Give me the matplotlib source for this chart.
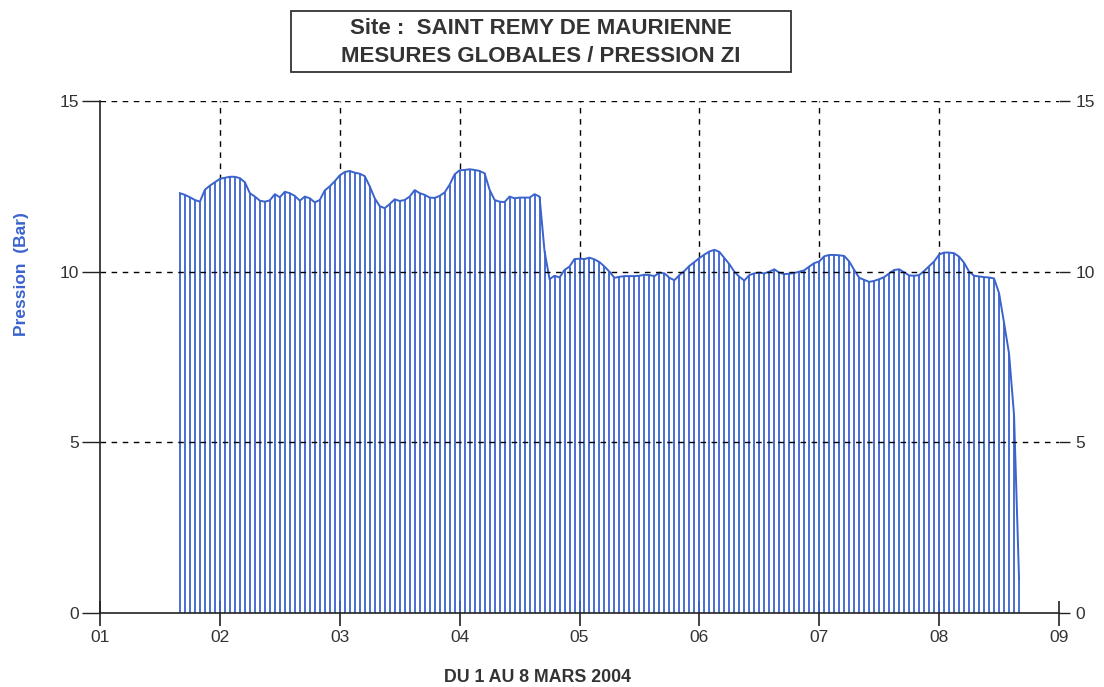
import numpy as np
import matplotlib
matplotlib.use("Agg")
import matplotlib.pyplot as plt
from matplotlib.patches import Rectangle

plt.rcParams['font.family'] = ['Liberation Sans', 'DejaVu Sans']

# Hourly pressure readings, starting 1 March 16:00 (day value 1 + 16/24)
start_day = 1 + 16 / 24
pression = [
    12.30, 12.25, 12.18, 12.10, 12.05, 12.40, 12.52, 12.62,
    12.72, 12.75, 12.78, 12.78, 12.74, 12.62, 12.30, 12.20,
    12.08, 12.05, 12.09, 12.27, 12.18, 12.34, 12.30, 12.22,
    12.08, 12.20, 12.15, 12.03, 12.10, 12.38, 12.50, 12.65,
    12.82, 12.92, 12.95, 12.90, 12.87, 12.80, 12.50, 12.15,
    11.92, 11.86, 11.98, 12.12, 12.07, 12.10, 12.20, 12.39,
    12.30, 12.25, 12.17, 12.16, 12.22, 12.32, 12.55, 12.85,
    12.97, 12.98, 13.00, 12.98, 12.95, 12.88, 12.40, 12.10,
    12.05, 12.04, 12.20, 12.15, 12.17, 12.17, 12.17, 12.27,
    12.20, 10.60, 9.78, 9.88, 9.83, 10.05, 10.15, 10.37,
    10.38, 10.37, 10.41, 10.36, 10.28, 10.15, 10.00, 9.82,
    9.85, 9.87, 9.87, 9.87, 9.88, 9.91, 9.90, 9.87,
    9.97, 9.95, 9.82, 9.75, 9.90, 10.02, 10.17, 10.28,
    10.40, 10.50, 10.59, 10.64, 10.58, 10.40, 10.22, 10.00,
    9.85, 9.74, 9.90, 9.95, 9.97, 9.95, 10.00, 10.07,
    9.97, 9.93, 9.94, 9.96, 10.00, 10.04, 10.15, 10.25,
    10.30, 10.45, 10.49, 10.49, 10.48, 10.46, 10.30, 10.05,
    9.82, 9.76, 9.70, 9.73, 9.78, 9.84, 9.95, 10.05,
    10.07, 9.98, 9.89, 9.88, 9.90, 10.02, 10.16, 10.30,
    10.50, 10.56, 10.56, 10.54, 10.44, 10.26, 10.00, 9.88,
    9.86, 9.84, 9.83, 9.80, 9.37, 8.50, 7.60, 5.80,
    1.00,
]
y_ticks = [0, 5, 10, 15]
x_ticks = [1, 2, 3, 4, 5, 6, 7, 8, 9]
x_tick_labels = ['01', '02', '03', '04', '05', '06', '07', '08', '09']
title_lines = ["Site :  SAINT REMY DE MAURIENNE", "MESURES GLOBALES / PRESSION ZI"]
x_label = "DU 1 AU 8 MARS 2004"
y_label = "Pression  (Bar)"

t = start_day + np.arange(len(pression)) / 24.0
v = np.array(pression)

W, H = 1104, 687
fig = plt.figure(figsize=(W / 100, H / 100), dpi=100)
ax = fig.add_axes([100 / W, (H - 613) / H, 959 / W, 512 / H])

blue = '#3a63cc'
tick_col = '#333333'

# vertical dashed grid lines (behind the white area under the curve)
for xv in x_ticks[1:-1]:
    ax.axvline(xv, color='black', lw=1.0, ls=(0, (4, 4)), zorder=0)
ax.fill_between(t, 0, v, color='white', lw=0, zorder=1)
ax.vlines(t, 0, v, color=blue, lw=1.3, zorder=2)
ax.plot(t, v, color=blue, lw=1.4, zorder=3)
# horizontal dashed grid lines on top
for yv in y_ticks[1:]:
    ax.axhline(yv, color='black', lw=1.0, ls=(0, (4, 4)), zorder=4)

ax.set_xlim(1, 9)
ax.set_ylim(0, 15)
ax.set_xticks(x_ticks)
ax.set_xticklabels(x_tick_labels)
ax.set_yticks(y_ticks)
for s in ['top', 'right']:
    ax.spines[s].set_visible(False)
for s in ['left', 'bottom']:
    ax.spines[s].set_color('#222222')
    ax.spines[s].set_linewidth(1.2)
    ax.spines[s].set_zorder(5)
ax.tick_params(axis='x', direction='inout', length=18, width=1.2, colors='#222222',
               labelcolor=tick_col, labelsize=12.5, pad=3)
ax.tick_params(axis='y', direction='out', length=13, width=1.0, colors='#222222',
               labelcolor=tick_col, labelsize=12.5, pad=2)

ax2 = ax.twinx()
ax2.set_ylim(0, 15)
ax2.set_yticks(y_ticks)
for s in ['top', 'right', 'left', 'bottom']:
    ax2.spines[s].set_visible(False)
ax2.tick_params(axis='y', direction='out', length=8, width=1.0, colors='#222222',
                labelcolor=tick_col, labelsize=12.5, pad=4)

fig.text(22 / W, 1 - 274 / H, y_label, rotation=90, ha='center', va='center',
         color='#3a63cc', fontsize=12.5, fontweight='bold')
fig.text(538 / W, 1 - 677 / H, x_label, ha='center', va='center',
         color='#333333', fontsize=12.8, fontweight='bold')

fig.patches.append(Rectangle((291 / W, 1 - 72 / H), 500 / W, 61 / H,
                             transform=fig.transFigure, fill=False,
                             edgecolor='#333333', lw=1.3))
fig.text(541 / W, 1 - 28 / H, title_lines[0], ha='center', va='center',
         color='#333333', fontsize=16, fontweight='bold')
fig.text(541 / W, 1 - 56 / H, title_lines[1], ha='center', va='center',
         color='#333333', fontsize=16, fontweight='bold')

fig.savefig('out.png', dpi=100)
